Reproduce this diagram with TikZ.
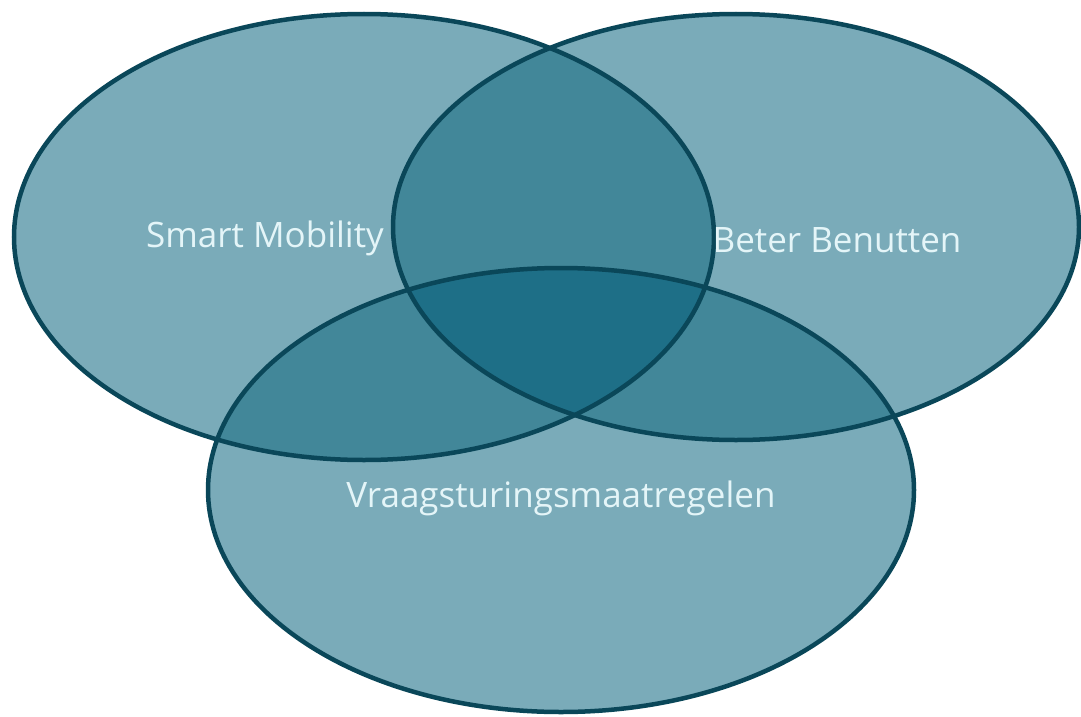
\documentclass[tikz,border=0pt]{standalone}
\usepackage{fontspec}
\setmainfont{Open Sans}
\definecolor{one}{HTML}{7AABB9}
\definecolor{two}{HTML}{428799}
\definecolor{three}{HTML}{1E6F87}
\definecolor{edge}{HTML}{0A4759}
\definecolor{txt}{HTML}{E4F5F8}
\begin{document}
\begin{tikzpicture}[x=1pt,y=-1pt,
  lbl/.style={text=txt,font=\fontsize{35}{40}\selectfont,inner sep=0pt,anchor=base},
  outline/.style={draw=edge,line width=4.5pt}]
\useasboundingbox (0,0) rectangle (1081,717);
\def\ellA{(364,237) ellipse [x radius=350,y radius=223]}
\def\ellB{(736,227) ellipse [x radius=343,y radius=213]}
\def\ellC{(561,490) ellipse [x radius=353,y radius=222]}
\fill[one] \ellA;
\fill[one] \ellB;
\fill[one] \ellC;
\begin{scope}\clip \ellA; \fill[two] \ellB; \fill[two] \ellC; \end{scope}
\begin{scope}\clip \ellB; \fill[two] \ellC; \end{scope}
\begin{scope}\clip \ellA; \clip \ellB; \fill[three] \ellC; \end{scope}
\draw[outline] \ellA;
\draw[outline] \ellB;
\draw[outline] \ellC;
\node[lbl] (sm) at (265,247) {Smart Mobility};
\node[lbl] (bb) at (837,252) {Beter Benutten};
\node[lbl] (vr) at (561,507) {Vraagsturingsmaatregelen};
\end{tikzpicture}
\end{document}
